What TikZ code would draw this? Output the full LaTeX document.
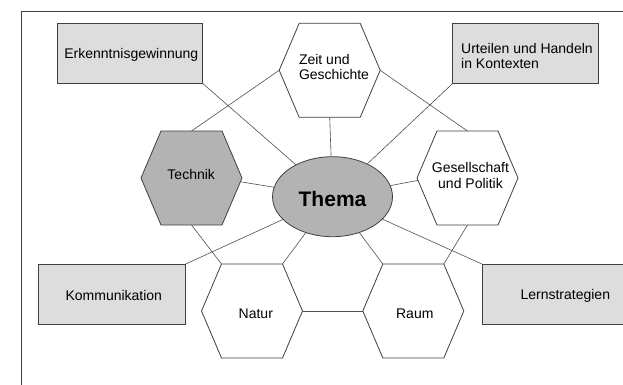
\documentclass[tikz,border=0pt]{standalone}
\usepackage{fontspec}
\setmainfont{Liberation Sans}
\usetikzlibrary{calc,shapes.geometric}
\pgfdeclarelayer{back}
\pgfdeclarelayer{bg}
\pgfsetlayers{back,bg,main}
\definecolor{linec}{HTML}{404040}
\definecolor{conc}{HTML}{505050}
\definecolor{boxfill}{HTML}{DDDDDD}
\definecolor{darkfill}{HTML}{B3B3B3}
\newcommand\mkhex[4]{%
  \begin{scope}[shift={(#2,#3)}]
    \draw[hexline,fill=#4] (-30.5,-47) coordinate (#1-nw) -- (30.5,-47) coordinate (#1-ne)
      -- (50.5,0) coordinate (#1-e) -- (30.5,47) coordinate (#1-se)
      -- (-30.5,47) coordinate (#1-sw) -- (-50.5,0) coordinate (#1-w) -- cycle;
    \coordinate (#1-n) at (0,-47);
    \coordinate (#1-s) at (0,47);
    \coordinate (#1-c) at (0,0);
  \end{scope}}
\begin{document}
\begin{tikzpicture}[x=1pt,y=-1pt,
  font=\fontsize{14}{15}\selectfont,
  hexline/.style={draw=linec,line width=0.8pt,line join=miter},
  box/.style={draw=linec,fill=boxfill,line width=0.8pt,inner sep=0pt,anchor=north west},
  con/.style={draw=conc,line width=0.6pt},
  lbl/.style={inner sep=0pt,anchor=base},
  mlbl/.style={inner sep=0pt}]
\useasboundingbox (0,0) rectangle (623,385);
\begin{pgfonlayer}{back}
\fill[white] (0,0) rectangle (623,385);
\end{pgfonlayer}
\clip (0,0) rectangle (623,385);
% frame
\draw[draw=linec,line width=0.8pt] (21.7,400) -- (21.7,11) -- (640,11);
% boxes
\node[box,minimum width=145,minimum height=59.7] (erk) at (57.3,23.3) {};
\node[box,minimum width=145.4,minimum height=59.7] (urt) at (452.3,23.3) {};
\node[box,minimum width=146.1,minimum height=59.6] (kom) at (38.4,264.2) {};
\node[box,minimum width=168,minimum height=59.6] (lern) at (482.3,264.2) {};
% central ellipse
\node[ellipse,draw=linec,fill=darkfill,line width=0.8pt,inner sep=0pt,
      minimum width=120,minimum height=80] (thema) at (332.5,196.7) {};
% hexagons
\mkhex{zeit}{329.7}{70.3}{white}
\mkhex{tech}{191.5}{178}{darkfill}
\mkhex{ges}{467.5}{178}{white}
\mkhex{natur}{252}{311}{white}
\mkhex{raum}{413.3}{311}{white}
\coordinate (tech-r) at ($(tech-e)!0.08!(tech-se)$);
\coordinate (ges-l) at ($(ges-w)!0.05!(ges-sw)$);
% texts
\node[lbl] (erk-t) at (131.3,58.7) {Erkenntnisgewinnung};
\node[mlbl,anchor=west,align=left,font=\fontsize{14}{15}\selectfont] (urt-t) at (461,55.7) {Urteilen und Handeln\\in Kontexten};
\node[lbl] (kom-t) at (113.8,300.3) {Kommunikation};
\node[lbl] (lern-t) at (565.3,299.3) {Lernstrategien};
\node[mlbl,anchor=west,align=left,font=\fontsize{14}{15}\selectfont] (zeit-t) at (298.8,67.4) {Zeit und\\Geschichte};
\node[lbl] (tech-t) at (191.2,179.3) {Technik};
\node[mlbl,align=center,font=\fontsize{14}{15.6}\selectfont] (ges-t) at (470.5,175.4) {Gesellschaft\\und Politik};
\node[lbl] (natur-t) at (255.8,318.7) {Natur};
\node[lbl] (raum-t) at (414.8,318.7) {Raum};
\node[lbl,font=\fontsize{21}{24}\selectfont\bfseries] (thema-t) at (332.5,206.7) {Thema};
% connectors
\begin{pgfonlayer}{bg}
\draw[con] (erk.south east) -- (thema);
\draw[con] (zeit-w) -- (tech-n);
\draw[con] (zeit-s) -- (thema);
\draw[con] (zeit-e) -- (ges-n);
\draw[con] (urt.south west) -- (thema);
\draw[con] (tech-r) -- (thema);
\draw[con] (ges-l) -- (thema);
\draw[con] (thema) -- (kom.north east);
\draw[con] (tech-s) -- (natur-nw);
\draw[con] (thema) -- (natur-ne);
\draw[con] (thema) -- (raum-nw);
\draw[con] (thema) -- (lern.north west);
\draw[con] (ges-s) -- (raum-ne);
\draw[con] (natur-e) -- (raum-w);
\end{pgfonlayer}
\end{tikzpicture}
\end{document}
